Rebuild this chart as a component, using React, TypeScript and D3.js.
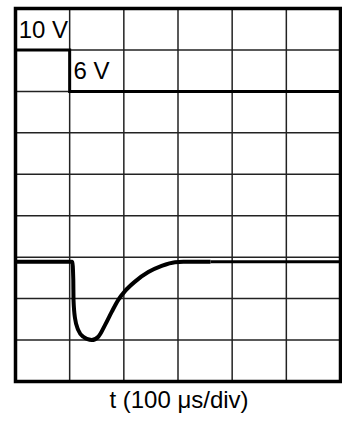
import React from "react";
import * as d3 from "d3";

// screen is 6 x 9 divisions, values below are in divisions
const COLS = 6;
const ROWS = 9;

// channel 1: 10 V step down to 6 V after one division
const ch1Time = [0, 1, 6];
const ch1Level = [8, 7, 7];
const ch1Labels = [
  { t: 0.06, v: 8.5, text: "10 V" },
  { t: 1.07, v: 7.5, text: "6 V" },
];

// channel 2: undershoot and recovery
const ch2Time = [0, 1.049, 1.067, 1.071, 1.098, 1.159, 1.252, 1.407, 1.529, 1.652, 1.776, 1.898, 2.021, 2.206, 2.452, 2.699, 2.944, 3.098, 3.6];
const ch2Level = [2.89, 2.89, 2.45, 1.97, 1.53, 1.24, 1.08, 1.0, 1.08, 1.36, 1.68, 1.97, 2.18, 2.41, 2.64, 2.79, 2.88, 2.89, 2.89];
const ch2TailTime = [3.6, 6];
const ch2TailLevel = [2.89, 2.89];

const xLabel = "t (100 \u03bcs/div)";

const W = 342;
const H = 431;

export default function App() {
  const x = d3.scaleLinear().domain([0, COLS]).range([15.5, 340.5]);
  const y = d3.scaleLinear().domain([0, ROWS]).range([381.5, 8.5]);

  const line = d3
    .line<[number, number]>()
    .x((d) => x(d[0]))
    .y((d) => y(d[1]));

  const ch1 = line.curve(d3.curveStepAfter)(ch1Time.map((t, i) => [t, ch1Level[i]]));
  const ch2 = line.curve(d3.curveMonotoneX)(ch2Time.map((t, i) => [t, ch2Level[i]]));
  const ch2Tail = line.curve(d3.curveLinear)(ch2TailTime.map((t, i) => [t, ch2TailLevel[i]]));

  const font = "'Liberation Sans', Arial, sans-serif";

  return (
    <div style={{ position: "absolute", left: 0, top: 0 }}>
      <svg width={W} height={H} style={{ display: "block", background: "#fff" }}>
        <g stroke="#222" strokeWidth={1.5}>
          {d3.range(1, COLS).map((k) => (
            <line key={"v" + k} x1={x(k)} x2={x(k)} y1={y(0)} y2={y(ROWS)} />
          ))}
          {d3.range(1, ROWS).map((k) => (
            <line key={"h" + k} x1={x(0)} x2={x(COLS)} y1={y(k)} y2={y(k)} />
          ))}
        </g>
        <rect
          x={x(0)}
          y={y(ROWS)}
          width={x(COLS) - x(0)}
          height={y(0) - y(ROWS)}
          fill="none"
          stroke="#000"
          strokeWidth={3.5}
        />
        <path d={ch1 || ""} fill="none" stroke="#000" strokeWidth={3} />
        <path d={ch2 || ""} fill="none" stroke="#000" strokeWidth={4} strokeLinejoin="round" />
        <path d={ch2Tail || ""} fill="none" stroke="#000" strokeWidth={3} />
        {ch1Labels.map((l) => (
          <text
            key={l.text}
            x={x(l.t)}
            y={y(l.v)}
            dy="0.36em"
            fontFamily={font}
            fontSize={24}
            fill="#000"
          >
            {l.text}
          </text>
        ))}
        <text
          x={(x(0) + x(COLS)) / 2 + 1}
          y={408}
          textAnchor="middle"
          fontFamily={font}
          fontSize={24}
          fill="#000"
        >
          {xLabel}
        </text>
      </svg>
    </div>
  );
}
